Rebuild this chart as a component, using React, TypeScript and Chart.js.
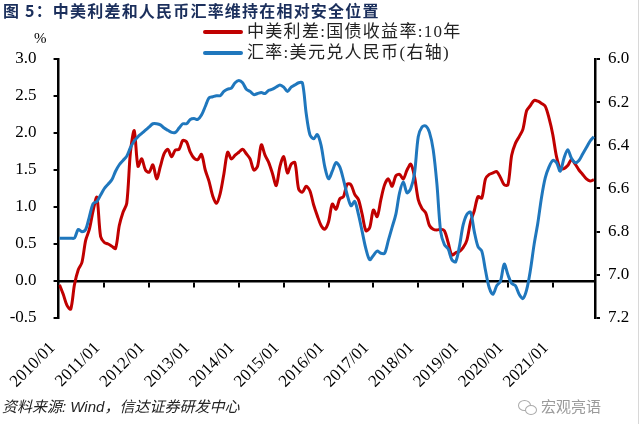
import React, { useEffect, useRef } from 'react';
import { Chart, registerables } from 'chart.js';

Chart.register(...registerables);

// ---- data ----
const years = [2010, 2011, 2012, 2013, 2014, 2015, 2016, 2017, 2018, 2019, 2020, 2021];
const months: string[] = [];
years.forEach((y) => {
  for (let m = 1; m <= 12; m++) months.push(`${y}/${m < 10 ? '0' + m : m}`);
});
const yearLabels = years.map((y) => `${y}/01`);
const yearTickIdx = yearLabels.map((l) => months.indexOf(l));

const leftTitle = '%';
const spreadName = '中美利差:国债收益率:10年';
const fxName = '汇率:美元兑人民币(右轴)';

// 中美利差 (%), monthly 2010/01 - 2021/12
const spreadValues = [
  -0.05, -0.18, -0.33, -0.38, -0.05, 0.15, 0.25, 0.55, 0.70, 0.95, 1.13, 0.60,
  0.52, 0.50, 0.47, 0.44, 0.75, 0.93, 1.05, 1.75, 2.03, 1.55, 1.65, 1.50,
  1.47, 1.57, 1.38, 1.55, 1.72, 1.78, 1.68, 1.77, 1.78, 1.90, 1.88, 1.74,
  1.66, 1.64, 1.71, 1.50, 1.35, 1.15, 1.05, 1.18, 1.45, 1.74, 1.65, 1.70,
  1.74, 1.78, 1.72, 1.65, 1.50, 1.55, 1.84, 1.70, 1.60, 1.45, 1.29, 1.55,
  1.68, 1.46, 1.58, 1.60, 1.24, 1.20, 1.28, 1.22, 1.03, 0.88, 0.75, 0.70,
  0.80, 1.04, 0.97, 1.11, 1.14, 1.31, 1.30, 1.17, 1.10, 0.90, 0.68, 0.72,
  0.96, 0.87, 1.10, 1.30, 1.38, 1.28, 1.42, 1.44, 1.38, 1.50, 1.58, 1.41,
  1.10, 0.98, 0.92, 0.75, 0.70, 0.69, 0.70, 0.68, 0.52, 0.35, 0.38, 0.40,
  0.45, 0.55, 0.80, 0.95, 1.14, 1.12, 1.38, 1.44, 1.46, 1.48, 1.40, 1.30,
  1.30, 1.70, 1.86, 1.95, 2.05, 2.30, 2.37, 2.44, 2.43, 2.40, 2.36, 2.20,
  1.98, 1.68, 1.52, 1.52, 1.56, 1.64, 1.58, 1.50, 1.44, 1.38, 1.35, 1.37,
];

// 美元兑人民币 (right axis, reversed)
const fxValues = [
  6.83, 6.83, 6.83, 6.83, 6.83, 6.79, 6.80, 6.79, 6.73, 6.67, 6.66, 6.63,
  6.60, 6.58, 6.56, 6.52, 6.49, 6.47, 6.45, 6.41, 6.38, 6.36, 6.345, 6.33,
  6.315, 6.30, 6.30, 6.305, 6.32, 6.33, 6.34, 6.34, 6.32, 6.30, 6.30, 6.28,
  6.276, 6.28, 6.26, 6.22, 6.18, 6.175, 6.17, 6.17, 6.15, 6.14, 6.135, 6.11,
  6.10, 6.11, 6.14, 6.15, 6.165, 6.16, 6.155, 6.16, 6.145, 6.14, 6.13, 6.12,
  6.13, 6.15, 6.13, 6.12, 6.11, 6.11, 6.25, 6.35, 6.37, 6.35, 6.40, 6.50,
  6.555, 6.52, 6.48, 6.50, 6.56, 6.63, 6.68, 6.66, 6.72, 6.80, 6.88, 6.93,
  6.91, 6.89, 6.90, 6.90, 6.84, 6.78, 6.72, 6.62, 6.57, 6.62, 6.60, 6.53,
  6.36, 6.315, 6.31, 6.34, 6.42, 6.58, 6.80, 6.86, 6.88, 6.93, 6.94, 6.87,
  6.77, 6.72, 6.71, 6.80, 6.87, 6.89, 6.98, 7.06, 7.09, 7.05, 7.03, 6.95,
  7.00, 7.04, 7.05, 7.09, 7.11, 7.07, 6.98, 6.86, 6.76, 6.64, 6.55, 6.50,
  6.47, 6.48, 6.52, 6.46, 6.42, 6.46, 6.48, 6.47, 6.44, 6.41, 6.38, 6.36,
];

const leftMin = -0.5, leftMax = 3.0, leftStep = 0.5;
const rightMin = 6.0, rightMax = 7.2, rightStep = 0.2;

const RED = '#c00000';
const BLUE = '#1f77bd';
const SERIF = '"Liberation Serif", "Times New Roman", serif';
const CJK = '"Liberation Serif", "Noto Sans CJK SC", serif';

export default function App() {
  const ref = useRef<HTMLCanvasElement | null>(null);

  useEffect(() => {
    if (!ref.current) return;
    const xMin = -0.25, xMax = 143.3;
    const chart = new Chart(ref.current, {
      type: 'line',
      data: {
        datasets: [
          {
            label: spreadName,
            data: spreadValues.map((v, i) => ({ x: i, y: v })),
            borderColor: RED,
            borderWidth: 3,
            pointRadius: 0,
            tension: 0.3,
            yAxisID: 'y',
            xAxisID: 'x',
            order: 2,
          },
          {
            label: fxName,
            data: fxValues.map((v, i) => ({ x: i, y: v })),
            borderColor: BLUE,
            borderWidth: 3,
            pointRadius: 0,
            tension: 0.3,
            yAxisID: 'y1',
            xAxisID: 'x',
            order: 1,
          },
        ],
      },
      options: {
        responsive: false,
        animation: false,
        devicePixelRatio: 1,
        layout: { padding: { top: 59, left: 0, right: 0, bottom: 0 } },
        plugins: {
          legend: { display: false },
          tooltip: { enabled: false },
          title: { display: false },
        },
        scales: {
          x: {
            type: 'linear',
            position: 'bottom',
            min: xMin,
            max: xMax,
            afterBuildTicks: (s: any) => {
              s.ticks = yearTickIdx.map((v) => ({ value: v }));
            },
            ticks: {
              autoSkip: false,
              minRotation: 45,
              maxRotation: 45,
              padding: 20,
              labelOffset: -7,
              color: '#000',
              font: { family: SERIF, size: 17 },
              callback: (v: any) => {
                const k = yearTickIdx.indexOf(Number(v));
                return k >= 0 ? yearLabels[k] : '';
              },
            },
            grid: { display: false, drawTicks: false },
            border: { display: false },
            afterFit: (s: any) => {
              s.height = 106;
            },
          },
          xt: {
            type: 'linear',
            position: { y: 0 } as any,
            min: xMin,
            max: xMax,
            afterBuildTicks: (s: any) => {
              s.ticks = yearTickIdx.slice(1).map((v) => ({ value: v }));
            },
            ticks: { display: false },
            grid: {
              drawOnChartArea: false,
              drawTicks: true,
              tickLength: 5,
              color: '#000',
              lineWidth: 2,
            },
            border: { display: true, color: '#000', width: 2.5 },
          },
          y: {
            position: 'left',
            min: leftMin,
            max: leftMax,
            ticks: {
              stepSize: leftStep,
              padding: 17,
              color: '#000',
              font: { family: SERIF, size: 17 },
              callback: (v: any) => Number(v).toFixed(1),
            },
            grid: {
              drawOnChartArea: false,
              drawTicks: true,
              tickLength: 5,
              color: '#000',
              lineWidth: 2,
            },
            border: { display: true, color: '#000', width: 2.5 },
            afterFit: (s: any) => {
              s.width = 55;
            },
          },
          y1: {
            position: 'right',
            reverse: true,
            min: rightMin,
            max: rightMax,
            ticks: {
              stepSize: rightStep,
              padding: 8,
              color: '#000',
              font: { family: SERIF, size: 17 },
              callback: (v: any) => Number(v).toFixed(1),
            },
            grid: {
              drawOnChartArea: false,
              drawTicks: true,
              tickLength: 5,
              color: '#000',
              lineWidth: 2,
            },
            border: { display: true, color: '#000', width: 2.5 },
            afterFit: (s: any) => {
              s.width = 45;
            },
          },
        },
      } as any,
    });
    return () => chart.destroy();
  }, []);

  const abs = (o: React.CSSProperties): React.CSSProperties => ({ position: 'absolute', whiteSpace: 'nowrap', ...o });

  return (
    <div style={{ position: 'fixed', left: 0, top: 0, width: 640, height: 424, background: '#fff', overflow: 'hidden' }}>
      <canvas ref={ref} width={640} height={424} style={{ position: 'absolute', left: 0, top: 0, width: 640, height: 424 }} />
      <div style={abs({ left: 3, top: 0, fontFamily: '"Noto Sans CJK SC", sans-serif', fontWeight: 700, fontSize: 16, letterSpacing: 1.2, color: '#1b2f5c', lineHeight: '20px' })}>
        图 5：中美利差和人民币汇率维持在相对安全位置
      </div>
      <div style={abs({ left: 34, top: 29, fontFamily: SERIF, fontSize: 15, color: '#000', lineHeight: '18px' })}>{leftTitle}</div>
      <div style={abs({ left: 203, top: 30, width: 40, height: 4, background: RED, borderRadius: 2 })} />
      <div style={abs({ left: 247, top: 21, fontFamily: CJK, fontSize: 17, letterSpacing: 1.3, color: '#222', lineHeight: '22px' })}>{spreadName}</div>
      <div style={abs({ left: 203, top: 51, width: 40, height: 4, background: BLUE, borderRadius: 2 })} />
      <div style={abs({ left: 247, top: 42, fontFamily: CJK, fontSize: 17, letterSpacing: 1.3, color: '#222', lineHeight: '22px' })}>{fxName}</div>
      <div style={abs({ left: 2, top: 398, fontFamily: '"Liberation Sans", "Noto Sans CJK SC", sans-serif', fontStyle: 'italic', fontSize: 15, color: '#222', lineHeight: '18px' })}>
        资料来源: Wind，信达证券研发中心
      </div>
      <div style={abs({ left: 518, top: 400, width: 11, height: 9, border: '1.5px solid #aaa', borderRadius: '50%' })} />
      <div style={abs({ left: 525, top: 405, width: 10, height: 8, border: '1.5px solid #aaa', borderRadius: '50%', background: '#fff' })} />
      <div style={abs({ left: 541, top: 396, fontFamily: '"Noto Sans CJK SC", sans-serif', fontSize: 15, color: '#9a9a9a', lineHeight: '20px' })}>宏观亮语</div>
      <div style={abs({ left: 638, top: 0, width: 1, height: 424, background: '#d8d8d8' })} />
    </div>
  );
}
